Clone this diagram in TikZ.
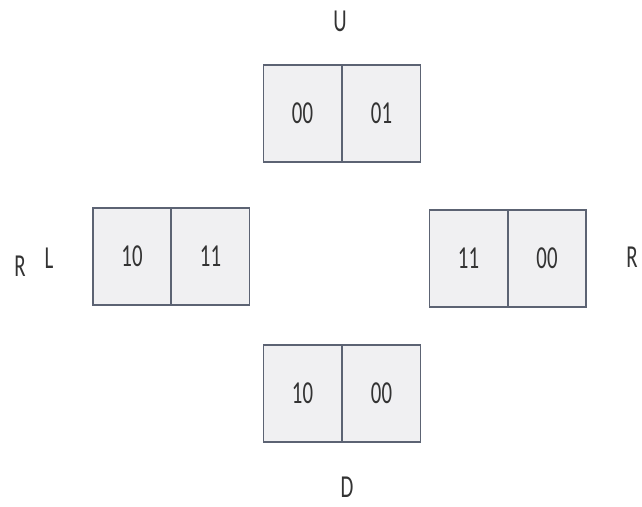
\documentclass[tikz,border=0pt]{standalone}
\usepackage{fontspec}
\setmainfont{Carlito}
\usepackage{graphicx}
\definecolor{bordc}{HTML}{5C6373}
\definecolor{cellc}{HTML}{F0F0F2}
\definecolor{txtc}{HTML}{333333}
\newcommand{\lbl}[1]{\scalebox{0.65}[1]{\fontsize{32}{34}\selectfont #1}}
\tikzset{
  cell/.style={draw=bordc, line width=1.1pt, fill=cellc, minimum width=78pt, minimum height=97pt, inner sep=0pt, outer sep=0pt, text=txtc, font=\fontsize{32}{34}\selectfont},
  tag/.style={inner sep=0pt, text=txtc}
}
\begin{document}
\begin{tikzpicture}[x=1pt,y=-1pt]
\useasboundingbox (0,0) rectangle (642,506);
% top
\node[cell] (t1) at (302.5,113.5) {\lbl{00}};
\node[cell] (t2) at (381.5,113.5) {\lbl{01}};
% left
\node[cell] (l1) at (132,256.5) {\lbl{10}};
\node[cell] (l2) at (210.5,256.5) {\lbl{11}};
% right
\node[cell] (r1) at (468.5,258.5) {\lbl{11}};
\node[cell] (r2) at (547,258.5) {\lbl{00}};
% bottom
\node[cell] (b1) at (302.5,393.5) {\lbl{10}};
\node[cell] (b2) at (381.5,393.5) {\lbl{00}};
% labels
\node[tag] (u) at (340,21) {\lbl{U}};
\node[tag] (d) at (347,487) {\lbl{D}};
\node[tag] (rl) at (20,266) {\lbl{R}};
\node[tag] (ll) at (49,258) {\lbl{L}};
\node[tag] (rr) at (632,257) {\lbl{R}};
\end{tikzpicture}
\end{document}
